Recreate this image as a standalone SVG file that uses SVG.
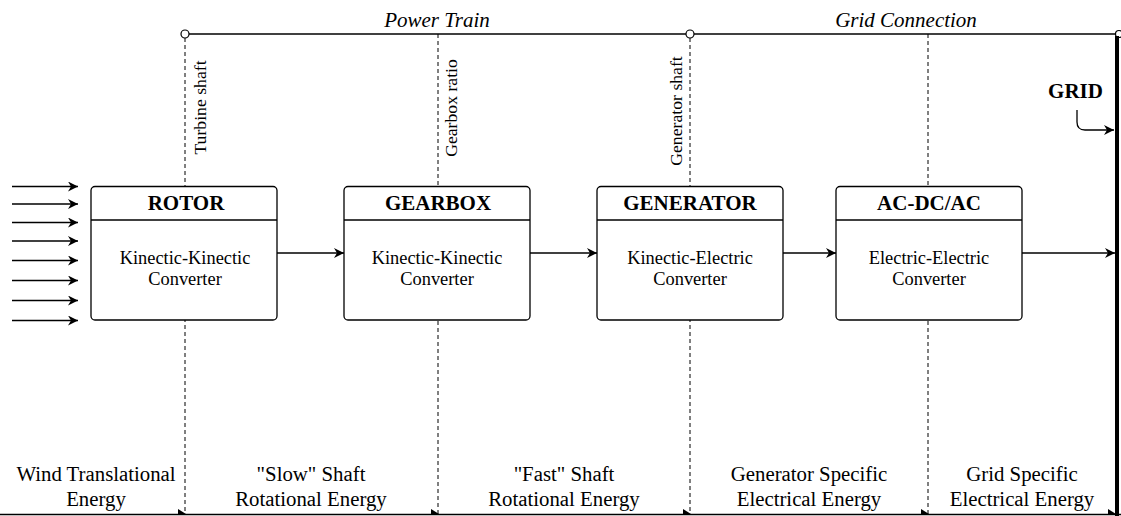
<svg xmlns="http://www.w3.org/2000/svg" width="1121" height="516" viewBox="0 0 1121 516" font-family="'Liberation Serif','Times New Roman',serif">
<defs>
<style>
text{font-family:"Liberation Serif","Times New Roman",serif;fill:#000}
.t{font-size:21px;font-weight:bold;text-anchor:middle}
.b{font-size:18.4px;text-anchor:middle}
.v{font-size:17.7px;text-anchor:middle}
.it{font-size:21px;font-style:italic;text-anchor:middle}
.bot{font-size:20.8px;text-anchor:middle}
.box{fill:#fff;stroke:#000;stroke-width:1.3}
.ln{stroke:#000;stroke-width:1.3;fill:none}
.dash{stroke:#000;stroke-width:1;stroke-dasharray:4 3;fill:none}
</style>
<marker id="ah" viewBox="0 0 10 10" refX="10" refY="5" markerWidth="10" markerHeight="10" markerUnits="userSpaceOnUse" orient="auto">
<path d="M0,0 L10,5 L0,10 L3,5 Z" fill="#000"/>
</marker>
</defs>
<g id="frame">
<line class="dash" x1="185" y1="38" x2="185" y2="514"/>
<line class="dash" x1="438" y1="34" x2="438" y2="514"/>
<line class="dash" x1="690" y1="38" x2="690" y2="514"/>
<line class="dash" x1="928" y1="34" x2="928" y2="514"/>
<line class="ln" x1="189" y1="34" x2="686" y2="34"/>
<line class="ln" x1="694" y1="34" x2="1117" y2="34"/>
<circle cx="185" cy="34" r="4" fill="#fff" stroke="#000" stroke-width="1.2"/>
<circle cx="690" cy="34" r="4" fill="#fff" stroke="#000" stroke-width="1.2"/>
<circle cx="1119" cy="34" r="3.5" fill="#fff" stroke="#000" stroke-width="1.2"/>
<line x1="1117" y1="36" x2="1117" y2="516" stroke="#000" stroke-width="4"/>
<text class="it" x="437" y="26.5">Power Train</text>
<text class="it" x="906" y="26.5">Grid Connection</text>
<text class="v" transform="translate(206,107.5) rotate(-90)">Turbine shaft</text>
<text class="v" transform="translate(457,108) rotate(-90)">Gearbox ratio</text>
<text class="v" transform="translate(682,111) rotate(-90)">Generator shaft</text>
</g>
<g id="grid">
<text class="t" x="1075.5" y="98">GRID</text>
<path class="ln" d="M1077,110 L1077,122 Q1077,130 1085,130 L1114,130" marker-end="url(#ah)"/>
</g>
<g id="bottom">
<line class="ln" x1="0" y1="514.5" x2="1121" y2="514.5"/>
<path d="M178,509 L186,514 L178,514 Z" fill="#000"/>
<path d="M431,509 L439,514 L431,514 Z" fill="#000"/>
<path d="M683,509 L691,514 L683,514 Z" fill="#000"/>
<path d="M921,509 L929,514 L921,514 Z" fill="#000"/>
<path d="M1108,509 L1116,514 L1108,514 Z" fill="#000"/>
<text class="bot" x="96" y="481">Wind Translational</text>
<text class="bot" x="96" y="505.5">Energy</text>
<text class="bot" x="311" y="481">"Slow" Shaft</text>
<text class="bot" x="311" y="505.5">Rotational Energy</text>
<text class="bot" x="564" y="481">"Fast" Shaft</text>
<text class="bot" x="564" y="505.5">Rotational Energy</text>
<text class="bot" x="809" y="481">Generator Specific</text>
<text class="bot" x="809" y="505.5">Electrical Energy</text>
<text class="bot" x="1022" y="481">Grid Specific</text>
<text class="bot" x="1022" y="505.5">Electrical Energy</text>
</g>
<g id="rotor">
<rect class="box" x="91" y="186.5" width="186" height="133.5" rx="4"/>
<line class="ln" x1="91" y1="220" x2="277" y2="220"/>
<text class="t" x="186" y="209.5">ROTOR</text>
<text class="b" x="185" y="263.5">Kinectic-Kinectic</text>
<text class="b" x="185" y="284.5">Converter</text>
</g>
<g id="gearbox">
<rect class="box" x="344" y="186.5" width="186" height="133.5" rx="4"/>
<line class="ln" x1="344" y1="220" x2="530" y2="220"/>
<text class="t" x="438" y="209.5">GEARBOX</text>
<text class="b" x="437" y="263.5">Kinectic-Kinectic</text>
<text class="b" x="437" y="284.5">Converter</text>
</g>
<g id="generator">
<rect class="box" x="597" y="186.5" width="186" height="133.5" rx="4"/>
<line class="ln" x1="597" y1="220" x2="783" y2="220"/>
<text class="t" x="690" y="209.5">GENERATOR</text>
<text class="b" x="690" y="263.5">Kinectic-Electric</text>
<text class="b" x="690" y="284.5">Converter</text>
</g>
<g id="acdcac">
<rect class="box" x="836" y="186.5" width="186" height="133.5" rx="4"/>
<line class="ln" x1="836" y1="220" x2="1022" y2="220"/>
<text class="t" x="929" y="209.5">AC-DC/AC</text>
<text class="b" x="929" y="263.5">Electric-Electric</text>
<text class="b" x="929" y="284.5">Converter</text>
</g>
<g id="connectors">
<line class="ln" x1="277" y1="253" x2="344" y2="253" marker-end="url(#ah)"/>
<line class="ln" x1="530" y1="253" x2="597" y2="253" marker-end="url(#ah)"/>
<line class="ln" x1="783" y1="253" x2="836" y2="253" marker-end="url(#ah)"/>
<line class="ln" x1="1022" y1="253" x2="1115" y2="253" marker-end="url(#ah)"/>
<line class="ln" x1="12" y1="186.5" x2="78" y2="186.5" marker-end="url(#ah)"/>
<line class="ln" x1="12" y1="204" x2="78" y2="204" marker-end="url(#ah)"/>
<line class="ln" x1="12" y1="222.5" x2="78" y2="222.5" marker-end="url(#ah)"/>
<line class="ln" x1="12" y1="241" x2="78" y2="241" marker-end="url(#ah)"/>
<line class="ln" x1="12" y1="260.5" x2="78" y2="260.5" marker-end="url(#ah)"/>
<line class="ln" x1="12" y1="280.5" x2="78" y2="280.5" marker-end="url(#ah)"/>
<line class="ln" x1="12" y1="300.5" x2="78" y2="300.5" marker-end="url(#ah)"/>
<line class="ln" x1="12" y1="320.5" x2="78" y2="320.5" marker-end="url(#ah)"/>
</g>
</svg>
